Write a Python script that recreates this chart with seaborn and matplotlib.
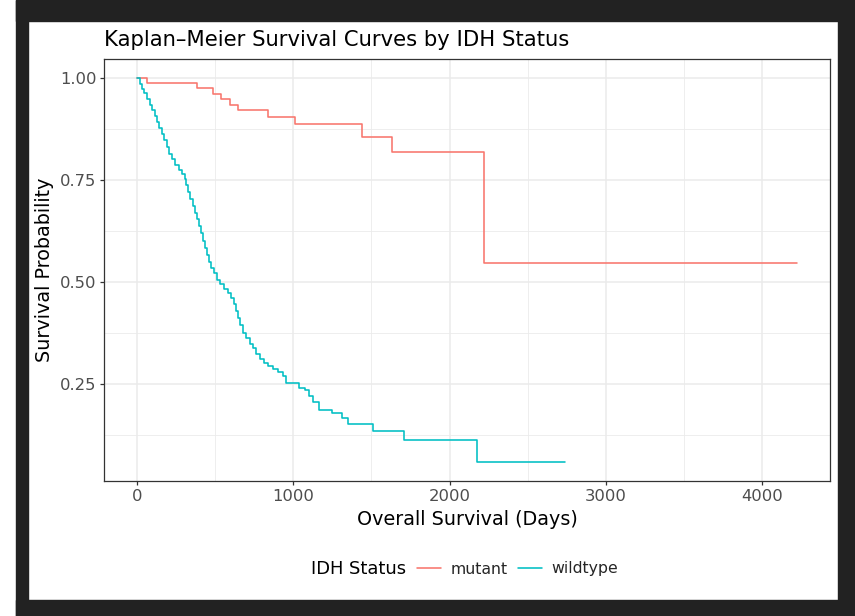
import matplotlib
matplotlib.use("Agg")
import matplotlib.pyplot as plt
import matplotlib.patches as mpatches
import seaborn as sns
import pandas as pd
import numpy as np

# ---- data ----
mutant_time = [0, 62, 385, 487, 538, 596, 646, 838, 1011, 1440, 1635, 2220, 4224]
mutant_surv = [1.000, 0.988, 0.976, 0.962, 0.949, 0.935, 0.921, 0.906, 0.887,
               0.856, 0.819, 0.546, 0.546]

wild_time = [0, 19, 32, 45, 64, 83, 96, 115, 128, 141, 160, 173, 192, 205, 224,
             244, 269, 288, 308, 314, 327, 340, 359, 372, 385, 397, 410, 423,
             436, 449, 462, 474, 494, 513, 532, 558, 583, 603, 622, 635, 647,
             660, 679, 699, 724, 744, 763, 788, 814, 840, 872, 904, 936, 955,
             1038, 1077, 1103, 1128, 1167, 1250, 1314, 1353, 1513, 1711, 2173,
             2737]
wild_surv = [1.000, 0.985, 0.973, 0.963, 0.949, 0.934, 0.922, 0.907, 0.892,
             0.878, 0.863, 0.848, 0.831, 0.814, 0.802, 0.787, 0.775, 0.765,
             0.753, 0.738, 0.721, 0.704, 0.687, 0.670, 0.655, 0.638, 0.621,
             0.601, 0.584, 0.567, 0.550, 0.535, 0.521, 0.506, 0.494, 0.482,
             0.472, 0.462, 0.447, 0.430, 0.411, 0.394, 0.376, 0.362, 0.349,
             0.337, 0.323, 0.310, 0.301, 0.293, 0.286, 0.279, 0.269, 0.252,
             0.240, 0.235, 0.220, 0.205, 0.186, 0.178, 0.166, 0.152, 0.134,
             0.112, 0.059, 0.059]

groups = ["mutant", "wildtype"]
colors = ["#F8766D", "#00BFC4"]
x_ticks = [0, 1000, 2000, 3000, 4000]
x_minor = [500, 1500, 2500, 3500]
y_ticks = [0.25, 0.50, 0.75, 1.00]
y_tick_labels = ["0.25", "0.50", "0.75", "1.00"]
y_minor = [0.125, 0.375, 0.625, 0.875]

df = pd.concat([
    pd.DataFrame({"time": mutant_time, "surv": mutant_surv, "IDH Status": groups[0]}),
    pd.DataFrame({"time": wild_time, "surv": wild_surv, "IDH Status": groups[1]}),
], ignore_index=True)

sns.set_theme(style="white")
plt.rcParams["font.family"] = ["DejaVu Sans"]

W, H = 855, 616
fig = plt.figure(figsize=(W / 100, H / 100), dpi=100, facecolor="white")

# dark screenshot frame
frame_col = "#222222"
def px_rect(x0, y0, x1, y1):
    fig.patches.append(mpatches.Rectangle((x0 / W, 1 - y1 / H), (x1 - x0) / W, (y1 - y0) / H,
                                          transform=fig.transFigure, color=frame_col,
                                          zorder=-10))
px_rect(16, 0, 855, 21)
px_rect(16, 600, 855, 616)
px_rect(16, 0, 28, 616)
px_rect(838, 0, 855, 616)

ax = fig.add_axes([104 / W, 1 - 481 / H, (830 - 104) / W, (481 - 59) / H])
ax.set_facecolor("white")

sns.lineplot(data=df, x="time", y="surv", hue="IDH Status", hue_order=groups,
             palette=colors, estimator=None, drawstyle="steps-post",
             linewidth=1.15, ax=ax, legend=True)

xmin, xmax = 0, max(mutant_time)
ymin, ymax = min(wild_surv), 1.0
xe = (xmax - xmin) * 0.05
ye = (ymax - ymin) * 0.05
ax.set_xlim(xmin - xe, xmax + xe)
ax.set_ylim(ymin - ye, ymax + ye)

ax.set_xticks(x_ticks)
ax.set_xticks(x_minor, minor=True)
ax.set_yticks(y_ticks)
ax.set_yticklabels(y_tick_labels)
ax.set_yticks(y_minor, minor=True)

ax.grid(True, which="major", color="#EBEBEB", linewidth=1.1)
ax.grid(True, which="minor", color="#EBEBEB", linewidth=0.6)
ax.set_axisbelow(True)

for s in ax.spines.values():
    s.set_color("#333333")
    s.set_linewidth(0.9)

ax.tick_params(axis="both", which="major", length=3, width=0.9, color="#333333",
               labelsize=11.8, labelcolor="#4D4D4D", pad=2.5, bottom=True, left=True)
ax.tick_params(axis="both", which="minor", length=0)

ax.set_xlabel("Overall Survival (Days)", fontsize=13.8, color="black")
ax.set_ylabel("Survival Probability", fontsize=13.8, color="black")
ax.xaxis.set_label_coords(0.5, -0.068)
ax.yaxis.set_label_coords(-0.069, 0.5)

ax.set_title("Kaplan\u2013Meier Survival Curves by IDH Status", fontsize=15.2,
             loc="left", color="black", pad=9)

handles, labels = ax.get_legend_handles_labels()
ax.get_legend().remove()
fig.text(311 / W, 1 - 569 / H, "IDH Status", fontsize=12.9, va="center", ha="left",
         color="black")
fig.legend(handles, labels, ncol=2, frameon=False, loc="center left",
           bbox_to_anchor=(417 / W, 1 - 569 / H), fontsize=11.3, handlelength=1.5,
           handletextpad=0.65, columnspacing=0.65, borderpad=0, borderaxespad=0)

fig.savefig("out.png", dpi=100, facecolor="white")
